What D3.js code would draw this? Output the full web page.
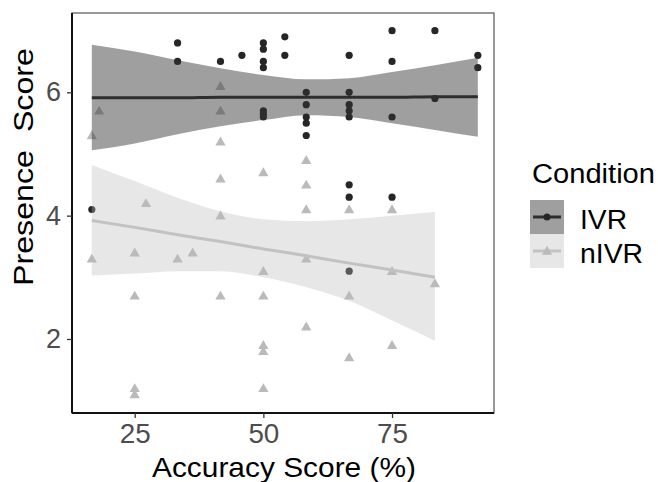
<!DOCTYPE html>
<html>
<head>
<meta charset="utf-8">
<script src="https://cdn.jsdelivr.net/npm/d3@7/dist/d3.min.js"></script>
<style>
  html, body { margin: 0; padding: 0; background: #fff; }
  svg { display: block; font-family: "Liberation Sans", Arial, sans-serif; }
</style>
</head>
<body>
<svg id="chart" width="658" height="482"></svg>
<script>
// ---- data ----
const xTicks = [25, 50, 75];
const yTicks = [2, 4, 6];
const conditions = ["IVR", "nIVR"];

const ivrAccuracy = [16.67, 33.33, 33.33, 41.67, 45.83, 50, 50, 50, 50, 50, 50, 50,
  54.17, 54.17, 58.33, 58.33, 58.33, 58.33, 58.33,
  66.67, 66.67, 66.67, 66.67, 66.67, 66.67, 66.67, 66.67,
  75, 75, 75, 75, 83.33, 83.33, 91.67, 91.67];
const ivrPresence = [4.1, 6.8, 6.5, 6.5, 6.6, 6.8, 6.7, 6.5, 6.4, 5.7, 5.65, 5.6,
  6.9, 6.6, 6.0, 5.8, 5.6, 5.5, 5.3,
  6.6, 6.0, 5.8, 5.7, 5.6, 4.5, 4.3, 3.1,
  7.0, 6.5, 5.6, 4.3, 7.0, 5.9, 6.6, 6.4];

const nivrAccuracy = [16.67, 16.67, 18.1, 25, 25, 25, 25, 27.2, 33.33, 36.27,
  41.67, 41.67, 41.67, 41.67, 41.67, 41.67,
  50, 50, 50, 50, 50, 50,
  58.33, 58.33, 58.33, 58.33, 58.33,
  66.67, 66.67, 66.67, 75, 75, 75, 83.33];
const nivrPresence = [5.3, 3.3, 5.7, 3.4, 2.7, 1.2, 1.1, 4.2, 3.3, 3.4,
  6.1, 5.7, 5.2, 4.6, 4.0, 2.7,
  4.7, 3.1, 2.7, 1.9, 1.8, 1.2,
  4.9, 4.5, 4.1, 3.3, 2.2,
  4.1, 2.7, 1.7, 4.1, 3.1, 1.9, 2.9];

// smoother (fit line and confidence band)
const ivrBandX = [16.67, 25, 33.33, 41.67, 50, 58.33, 66.67, 75, 83.33, 91.67];
const ivrFit   = [5.91, 5.91, 5.91, 5.92, 5.92, 5.92, 5.92, 5.92, 5.93, 5.93];
const ivrUpper = [6.77, 6.66, 6.52, 6.39, 6.28, 6.21, 6.23, 6.33, 6.44, 6.56];
const ivrLower = [5.06, 5.17, 5.32, 5.45, 5.55, 5.63, 5.60, 5.50, 5.39, 5.28];

const nivrBandX = [16.67, 25, 33.33, 41.67, 50, 58.33, 66.67, 75, 83.33];
const nivrFit   = [3.92, 3.81, 3.69, 3.58, 3.46, 3.35, 3.23, 3.12, 3.00];
const nivrUpper = [4.82, 4.56, 4.29, 4.07, 3.94, 3.91, 3.94, 4.00, 4.06];
const nivrLower = [3.03, 3.06, 3.10, 3.10, 3.00, 2.84, 2.62, 2.30, 1.97];

// ---- layout ----
const panel = { left: 72, right: 494, top: 13, bottom: 413 };
const svg = d3.select("#chart");

const x = d3.scaleLinear().domain([12.82, 94.81]).range([panel.left, panel.right]);
const y = d3.scaleLinear().domain([0.8, 7.286]).range([panel.bottom, panel.top]);

const col = {
  dot: "#262626", tri: "#bababa",
  ivrLine: "#2e2e2e", nivrLine: "#c2c2c2",
  ivrFill: "#333333", ivrOp: 0.47,
  nivrFill: "#bbbbbb", nivrOp: 0.35
};

// clip for panel
svg.append("defs").append("clipPath").attr("id", "clip")
  .append("rect").attr("x", panel.left).attr("y", panel.top)
  .attr("width", panel.right - panel.left).attr("height", panel.bottom - panel.top);

const plot = svg.append("g").attr("clip-path", "url(#clip)");

// points
const ivrPts = ivrAccuracy.map((a, i) => ({ a, p: ivrPresence[i] }));
const nivrPts = nivrAccuracy.map((a, i) => ({ a, p: nivrPresence[i] }));
const tri = d3.symbol().type(d3.symbolTriangle).size(46);

plot.append("g").selectAll("circle").data(ivrPts).join("circle")
  .attr("cx", d => x(d.a)).attr("cy", d => y(d.p)).attr("r", 3.6)
  .attr("fill", col.dot);
plot.append("g").selectAll("path").data(nivrPts).join("path")
  .attr("d", tri).attr("transform", d => `translate(${x(d.a)},${y(d.p) + 0.8})`)
  .attr("fill", col.tri);

// smoothers
function smooth(bx, fit, lo, hi, fill, op, lineCol) {
  const rows = bx.map((v, i) => ({ v, f: fit[i], lo: lo[i], hi: hi[i] }));
  const area = d3.area().x(d => x(d.v)).y0(d => y(d.lo)).y1(d => y(d.hi))
    .curve(d3.curveMonotoneX);
  const line = d3.line().x(d => x(d.v)).y(d => y(d.f)).curve(d3.curveMonotoneX);
  plot.append("path").datum(rows).attr("d", area).attr("fill", fill).attr("fill-opacity", op);
  plot.append("path").datum(rows).attr("d", line).attr("fill", "none")
    .attr("stroke", lineCol).attr("stroke-width", 3);
}
smooth(ivrBandX, ivrFit, ivrLower, ivrUpper, col.ivrFill, col.ivrOp, col.ivrLine);
smooth(nivrBandX, nivrFit, nivrLower, nivrUpper, col.nivrFill, col.nivrOp, col.nivrLine);

// panel border
svg.append("rect").attr("x", panel.left).attr("y", panel.top)
  .attr("width", panel.right - panel.left).attr("height", panel.bottom - panel.top)
  .attr("fill", "none").attr("stroke", "#555").attr("stroke-width", 1.2);

// axes
const xAxis = svg.append("g").attr("transform", `translate(0,${panel.bottom})`)
  .call(d3.axisBottom(x).tickValues(xTicks).tickFormat(d3.format("d")).tickSize(5).tickPadding(6));
const yAxis = svg.append("g").attr("transform", `translate(${panel.left},0)`)
  .call(d3.axisLeft(y).tickValues(yTicks).tickFormat(d3.format("d")).tickSize(5).tickPadding(6));
[xAxis, yAxis].forEach(g => {
  g.select(".domain").attr("stroke", "#111").attr("stroke-width", 2);
  g.selectAll(".tick line").attr("stroke", "#333").attr("stroke-width", 1.3);
  g.selectAll(".tick text").attr("fill", "#4d4d4d")
    .style("font-size", "27px").style("font-family", "'Liberation Sans', Arial, sans-serif");
});
xAxis.selectAll(".tick text").attr("textLength", 31).attr("lengthAdjust", "spacingAndGlyphs");
xAxis.select(".domain").attr("d", `M${panel.left},0H${panel.right}`);
yAxis.select(".domain").attr("d", `M0,${panel.top}V${panel.bottom}`);

// axis titles
svg.append("text").attr("x", (panel.left + panel.right) / 2 + 1).attr("y", 477)
  .attr("text-anchor", "middle").attr("font-size", 28).attr("fill", "#000")
  .attr("textLength", 264).attr("lengthAdjust", "spacingAndGlyphs")
  .text("Accuracy Score (%)");
svg.append("text").attr("transform", "translate(33,167) rotate(-90)")
  .attr("text-anchor", "middle").attr("font-size", 28).attr("fill", "#000")
  .attr("textLength", 238).attr("lengthAdjust", "spacingAndGlyphs")
  .style("white-space", "pre").text("Presence  Score");

// legend
const lg = svg.append("g");
lg.append("text").attr("x", 532).attr("y", 183).attr("font-size", 27).attr("fill", "#000")
  .attr("textLength", 123).attr("lengthAdjust", "spacingAndGlyphs")
  .text("Condition");
const keys = [
  { name: conditions[0], y: 200, fill: col.ivrFill, op: col.ivrOp, line: col.ivrLine, shape: "dot", w: 47 },
  { name: conditions[1], y: 234, fill: col.nivrFill, op: col.nivrOp, line: col.nivrLine, shape: "tri", w: 63 }
];
keys.forEach(k => {
  const g = lg.append("g");
  g.append("rect").attr("x", 530).attr("y", k.y).attr("width", 34).attr("height", 34)
    .attr("fill", k.fill).attr("fill-opacity", k.op);
  g.append("line").attr("x1", 533).attr("x2", 561).attr("y1", k.y + 17).attr("y2", k.y + 17)
    .attr("stroke", k.line).attr("stroke-width", 3);
  if (k.shape === "dot") {
    g.append("circle").attr("cx", 547).attr("cy", k.y + 17).attr("r", 3.5).attr("fill", col.dot);
  } else {
    g.append("path").attr("d", tri).attr("transform", `translate(547,${k.y + 17.8})`).attr("fill", col.tri);
  }
  g.append("text").attr("x", 580).attr("y", k.y + 29).attr("font-size", 27).attr("fill", "#000")
    .attr("textLength", k.w).attr("lengthAdjust", "spacingAndGlyphs")
    .text(k.name);
});
</script>
</body>
</html>
